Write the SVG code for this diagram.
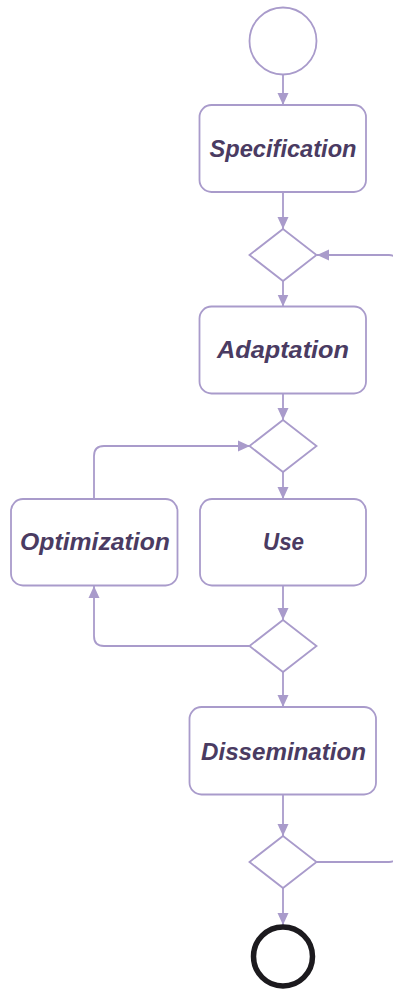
<svg xmlns="http://www.w3.org/2000/svg" width="393" height="990" viewBox="0 0 393 990">
  <defs>
    <style>
      .box { fill: #ffffff; stroke: #a99bcb; stroke-width: 1.8; }
      .gate { fill: #ffffff; stroke: #a99bcb; stroke-width: 1.8; }
      .edge { fill: none; stroke: #a99bcb; stroke-width: 1.8; }
      .label { font-family: "Liberation Sans", Arial, sans-serif; font-size: 24.5px; font-weight: bold; font-style: italic; fill: #4a3b62; text-anchor: middle; }
    </style>
    <marker id="arrow" viewBox="0 0 12 12" refX="12" refY="6" markerWidth="12" markerHeight="12" markerUnits="userSpaceOnUse" orient="auto">
      <path d="M0,0.5 L12,6 L0,11.5 Z" fill="#a99bcb"/>
    </marker>
  </defs>
  <rect width="393" height="990" fill="#ffffff"/>

  <!-- connectors -->
  <g id="edges">
    <path class="edge" d="M283,74.5 V105" marker-end="url(#arrow)"/>
    <path class="edge" d="M283,192 V229" marker-end="url(#arrow)"/>
    <path class="edge" d="M283,281 V306.5" marker-end="url(#arrow)"/>
    <path class="edge" d="M283,393.5 V420" marker-end="url(#arrow)"/>
    <path class="edge" d="M283,472 V499" marker-end="url(#arrow)"/>
    <path class="edge" d="M283,585.5 V620" marker-end="url(#arrow)"/>
    <path class="edge" d="M283,672 V707" marker-end="url(#arrow)"/>
    <path class="edge" d="M283,794.5 V836" marker-end="url(#arrow)"/>
    <path class="edge" d="M283,888 V925" marker-end="url(#arrow)"/>
    <!-- optimization feeds back into the use gate -->
    <path class="edge" d="M94,499 V456 Q94,446 104,446 H250" marker-end="url(#arrow)"/>
    <!-- post-use gate back to optimization -->
    <path class="edge" d="M250,646 H104 Q94,646 94,636 V586" marker-end="url(#arrow)"/>
    <!-- dissemination gate loops back to adaptation -->
    <path class="edge" d="M316,862 H389 Q397,862 397,854 V263 Q397,255 389,255 H317" marker-end="url(#arrow)"/>
  </g>

  <g id="start">
    <circle cx="283" cy="41" r="33.5" class="gate"/>
  </g>

  <g id="specification">
    <rect class="box" x="199.5" y="105" width="166.5" height="87" rx="12"/>
    <text class="label" x="283" y="157" textLength="147" lengthAdjust="spacingAndGlyphs">Specification</text>
  </g>

  <g id="gate-adapt">
    <polygon class="gate" points="283,229 316.5,255 283,281 249.5,255"/>
  </g>

  <g id="adaptation">
    <rect class="box" x="199.5" y="306.5" width="166.5" height="87" rx="12"/>
    <text class="label" x="283" y="358" textLength="132" lengthAdjust="spacingAndGlyphs">Adaptation</text>
  </g>

  <g id="gate-use">
    <polygon class="gate" points="283,420 316.5,446 283,472 249.5,446"/>
  </g>

  <g id="optimization">
    <rect class="box" x="11" y="499" width="166.5" height="86.5" rx="12"/>
    <text class="label" x="95" y="550" textLength="150" lengthAdjust="spacingAndGlyphs">Optimization</text>
  </g>

  <g id="use">
    <rect class="box" x="200" y="499" width="166" height="86.5" rx="12"/>
    <text class="label" x="283.5" y="550" textLength="41" lengthAdjust="spacingAndGlyphs">Use</text>
  </g>

  <g id="gate-optimize">
    <polygon class="gate" points="283,620 316.5,646 283,672 249.5,646"/>
  </g>

  <g id="dissemination">
    <rect class="box" x="189.5" y="707" width="186.5" height="87.5" rx="12"/>
    <text class="label" x="283.5" y="759.5" textLength="165" lengthAdjust="spacingAndGlyphs">Dissemination</text>
  </g>

  <g id="gate-end">
    <polygon class="gate" points="283,836 316.5,862 283,888 249.5,862"/>
  </g>

  <g id="end">
    <circle cx="283" cy="956.5" r="29.5" fill="#ffffff" stroke="#1c1a1e" stroke-width="5.5"/>
  </g>
</svg>
